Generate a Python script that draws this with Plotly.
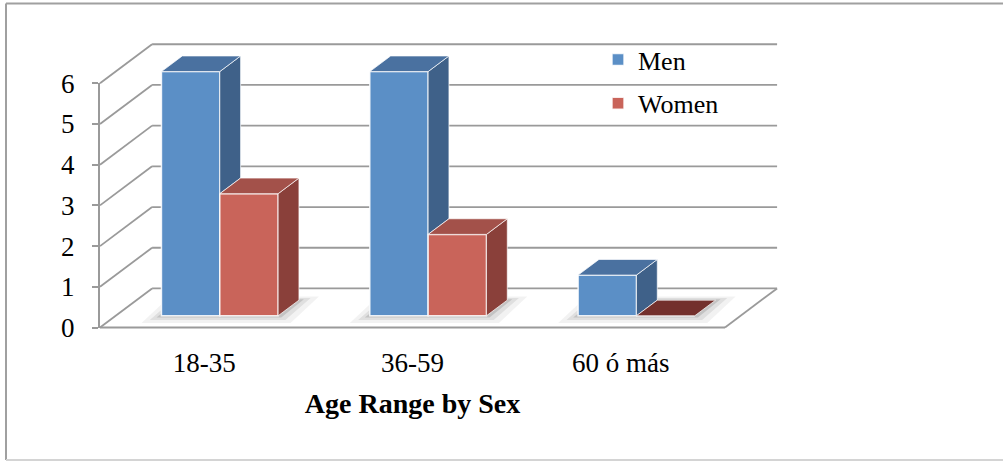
import plotly.graph_objects as go

# ---- data -------------------------------------------------------------
CATEGORIES = ["18-35", "36-59", "60 ó más"]
MEN = [6, 6, 1]
WOMEN = [3, 2, 0]
Y_TICKS = [0, 1, 2, 3, 4, 5, 6]
X_TITLE = "Age Range by Sex"

# ---- page / projection geometry ---------------------------------------
W, H = 1003, 461
PX_CAT = 625 / 3          # pixels per category on the front plane
PX_UNIT = 40.7            # pixels per value unit
ORIGIN_X = 100            # pixel x of category -0.5 on the front plane
ORIGIN_Y = 327.5          # pixel y of value 0 on the front plane
DX, DY = 0.25, 0.96       # oblique offset of the back wall (data units)
BAR_W = 0.28              # bar width in category units
BAR_FRONT = 0.3           # bar front face position as a fraction of depth
BAR_DEPTH = 0.4           # bar depth as a fraction of depth

FONT = "Liberation Serif"
GRID = "#9a9a9a"
MEN_COL = dict(front="#5B8FC6", top="#4A71A0", side="#3F6189")
WOMEN_COL = dict(front="#C9645A", top="#A3514A", side="#8A403A", flat="#73302C")


def px_x(v):
    return ORIGIN_X + (v + 0.5) * PX_CAT


def px_y(v):
    return ORIGIN_Y - v * PX_UNIT


def dom_x(a, b):
    return [px_x(a) / W, px_x(b) / W]


def dom_y(a, b):
    return [1 - px_y(a) / H, 1 - px_y(b) / H]


X_MAIN = [-0.7, 2.95]
Y_MAIN = [-0.6, 7.3]
N = len(CATEGORIES)
X_LO, X_HI = -0.5, N - 0.5
Y_LO, Y_HI = Y_TICKS[0], Y_TICKS[-1]

fig = go.Figure()

bx, by = BAR_FRONT * DX, BAR_FRONT * DY
ddx, ddy = BAR_DEPTH * DX, BAR_DEPTH * DY

men_x = [i - BAR_W / 2 + bx for i in range(N)]
women_x = [i + BAR_W / 2 + bx for i in range(N)]

# front faces of the bars
fig.add_trace(go.Bar(
    x=men_x, y=MEN, base=by, width=BAR_W, name="Men", legendgroup="men",
    marker=dict(color=MEN_COL["front"], line=dict(color="rgba(255,255,255,0.85)", width=1.5)),
    hoverinfo="skip",
))
fig.add_trace(go.Bar(
    x=women_x, y=WOMEN, base=by, width=BAR_W, name="Women", legendgroup="women",
    marker=dict(color=WOMEN_COL["front"], line=dict(color="rgba(255,255,255,0.85)", width=1.5)),
    hoverinfo="skip",
))


def face(xs, ys, color):
    fig.add_trace(go.Scatter(
        x=xs + [xs[0]], y=ys + [ys[0]], mode="lines", fill="toself",
        fillcolor=color, line=dict(color="rgba(255,255,255,0.7)", width=1),
        showlegend=False, hoverinfo="skip",
    ))


# top and side faces
for i in range(N):
    m, w = MEN[i], WOMEN[i]
    # men block
    xl, xr = men_x[i] - BAR_W / 2, men_x[i] + BAR_W / 2
    t = m + by
    lo = min(m, w) + by        # part of the side face hidden by the women block
    if t > lo:
        face([xr, xr, xr + ddx, xr + ddx], [lo, t, t + ddy, lo + ddy], MEN_COL["side"])
    face([xl, xr, xr + ddx, xl + ddx], [t, t, t + ddy, t + ddy], MEN_COL["top"])
    # women block
    xl, xr = women_x[i] - BAR_W / 2, women_x[i] + BAR_W / 2
    t = w + by
    if w > 0:
        face([xr, xr, xr + ddx, xr + ddx], [by, t, t + ddy, by + ddy], WOMEN_COL["side"])
        face([xl, xr, xr + ddx, xl + ddx], [t, t, t + ddy, t + ddy], WOMEN_COL["top"])
    else:
        face([xl, xr, xr + ddx, xl + ddx], [t, t, t + ddy, t + ddy], WOMEN_COL["flat"])

# ---- walls, floor and shadows (drawn beneath the bars) -----------------
shapes = []


def seg(x0, y0, x1, y1, color=GRID, width=1.8):
    shapes.append(dict(type="line", xref="x", yref="y", x0=x0, y0=y0, x1=x1, y1=y1,
                       line=dict(color=color, width=width), layer="below"))


for k in Y_TICKS:
    seg(X_LO, k, X_LO + DX, k + DY)               # left wall
    seg(X_LO + DX, k + DY, X_HI + DX, k + DY)     # back wall
seg(X_LO, Y_LO, X_HI, Y_LO)                        # floor front edge
seg(X_HI, Y_LO, X_HI + DX, Y_LO + DY)              # floor right edge

# soft floor shadow around each bar group
for i in range(N):
    x0 = men_x[i] - BAR_W / 2
    x1 = women_x[i] + BAR_W / 2
    for grow, alpha in [(0.06, 0.05), (0.035, 0.08), (0.015, 0.12)]:
        gx, gy = grow, grow * 3
        xs = [x0 - gx * 1.6, x1 + gx, x1 + ddx + gx * 1.6, x0 + ddx - gx]
        ys = [by - gy, by - gy, by + ddy + gy * 0.5, by + ddy + gy * 0.5]
        path = "M {} {} L {} {} L {} {} L {} {} Z".format(
            xs[0], ys[0], xs[1], ys[1], xs[2], ys[2], xs[3], ys[3])
        shapes.append(dict(type="path", xref="x", yref="y", path=path,
                           fillcolor="rgba(0,0,0,{})".format(alpha),
                           line=dict(width=0), layer="below"))

# chart-area frame (top, left and bottom edges)
FRAME_L, FRAME_T, FRAME_B = 6 / W, 1 - 3.5 / H, 1 / H
for x0, y0, x1, y1, col in [
    (FRAME_L, FRAME_T, 1.0, FRAME_T, "#a0a0a0"),
    (FRAME_L, FRAME_T, FRAME_L, FRAME_B, "#a0a0a0"),
    (FRAME_L, FRAME_B, 1.0, FRAME_B, "#d4d4d4"),
]:
    shapes.append(dict(type="line", xref="paper", yref="paper",
                       x0=x0, y0=y0, x1=x1, y1=y1,
                       line=dict(color=col, width=2), layer="above"))

# placeholder so the axis subplot is laid out
fig.add_trace(go.Scatter(x=[None], y=[None], xaxis="x2", yaxis="y2",
                         showlegend=False, hoverinfo="skip"))

fig.update_layout(
    width=W, height=H,
    margin=dict(l=0, r=0, t=0, b=0, autoexpand=False),
    paper_bgcolor="white", plot_bgcolor="rgba(0,0,0,0)",
    barmode="overlay",
    showlegend=True,
    font=dict(family=FONT, size=26, color="black"),
    shapes=shapes,
    xaxis=dict(domain=dom_x(*X_MAIN), range=X_MAIN, visible=False,
               fixedrange=True, automargin=False),
    yaxis=dict(domain=dom_y(*Y_MAIN), range=Y_MAIN, visible=False,
               fixedrange=True, automargin=False),
    xaxis2=dict(
        domain=dom_x(X_LO, X_HI), range=[X_LO, X_HI], anchor="y2",
        tickmode="array", tickvals=list(range(N)), ticktext=CATEGORIES,
        showline=False, showgrid=False, zeroline=False, ticks="",
        ticklabelstandoff=16, automargin=False,
        tickfont=dict(family=FONT, size=27, color="black"),
        title=dict(text="<b>" + X_TITLE + "</b>", standoff=16,
                   font=dict(family=FONT, size=28, color="black")),
    ),
    yaxis2=dict(
        domain=dom_y(Y_LO, Y_HI), range=[Y_LO, Y_HI], anchor="x2",
        tickmode="array", tickvals=Y_TICKS,
        showline=True, linecolor=GRID, linewidth=2,
        ticks="outside", ticklen=6, tickwidth=2, tickcolor=GRID,
        showgrid=False, zeroline=False, ticklabelstandoff=12, automargin=False,
        tickfont=dict(family=FONT, size=27, color="black"),
    ),
    legend=dict(
        x=598 / W, y=1 - 36 / H, xanchor="left", yanchor="top",
        traceorder="grouped", tracegroupgap=7,
        bgcolor="rgba(0,0,0,0)", font=dict(family=FONT, size=26, color="black"),
    ),
)

fig.write_html("out.html")
